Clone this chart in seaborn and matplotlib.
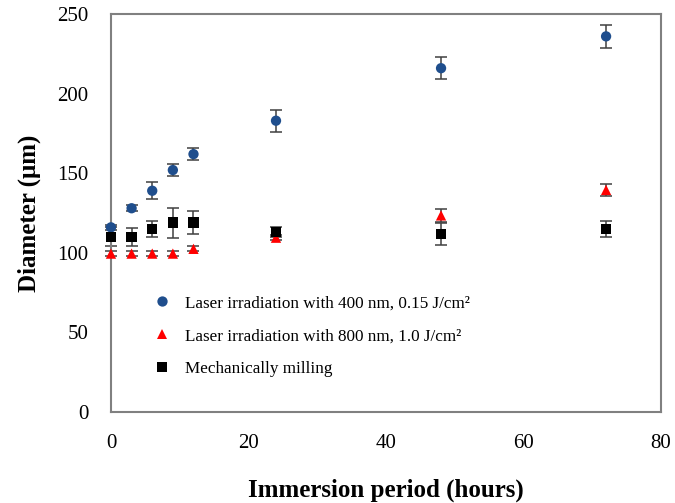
import matplotlib
matplotlib.use("Agg")
import matplotlib.pyplot as plt
import pandas as pd
import seaborn as sns

hours = [0, 3, 6, 9, 12, 24, 48, 72]

laser400 = [116, 128, 139, 152, 162, 183, 216, 236]
laser400_err = [1.5, 2, 5.5, 3.5, 3.8, 7, 7, 7]

laser800 = [99.5, 99.5, 99.5, 99.5, 102.5, 109.5, 123.5, 139.5]
laser800_err = [1.5, 1.5, 1.5, 1.5, 1.5, 1.5, 4, 4]

milling = [110, 110, 115, 119, 119, 113, 112, 115]
milling_err = [6, 5.6, 5, 9.4, 7, 3, 7, 5]

labels = ["Laser irradiation with 400 nm, 0.15 J/cm\u00b2",
          "Laser irradiation with 800 nm, 1.0 J/cm\u00b2",
          "Mechanically milling"]
colors = ["#1f4e8d", "#ff0000", "#000000"]
markers = ["o", "^", "s"]

df = pd.concat([
    pd.DataFrame({"hours": hours, "diameter": laser400, "err": laser400_err, "method": labels[0]}),
    pd.DataFrame({"hours": hours, "diameter": laser800, "err": laser800_err, "method": labels[1]}),
    pd.DataFrame({"hours": hours, "diameter": milling, "err": milling_err, "method": labels[2]}),
])

sns.set_style("white")
plt.rcParams["font.family"] = ["Liberation Serif", "DejaVu Serif"]
plt.rcParams["text.color"] = "black"
plt.rcParams["axes.labelcolor"] = "black"

fig = plt.figure(figsize=(6.75, 5.03), dpi=100)
ax = fig.add_axes([0.1644, 0.181, 0.815, 0.791])

# error bars first, markers on top
for lab in labels:
    sub = df[df["method"] == lab]
    eb = ax.errorbar(sub["hours"], sub["diameter"], yerr=sub["err"], fmt="none",
                     ecolor="#404040", elinewidth=1.1, capsize=4, capthick=1.1, zorder=2)
    for art in eb.get_children():
        art.set_clip_on(False)

sns.scatterplot(data=df, x="hours", y="diameter", hue="method", style="method",
                hue_order=labels, style_order=labels,
                palette=dict(zip(labels, colors)), markers=dict(zip(labels, markers)),
                s=55, edgecolor="none", linewidth=0, ax=ax, zorder=3, clip_on=False)

ax.set_xlim(0, 80)
ax.set_ylim(0, 250)
ax.set_xticks([0, 20, 40, 60, 80])
ax.set_yticks([0, 50, 100, 150, 200, 250])
ax.tick_params(direction="in", length=6, width=1.2, color="#808080",
               labelcolor="black", labelsize=15)
ax.tick_params(axis="x", pad=16)
ax.tick_params(axis="y", pad=16)
for sp in ax.spines.values():
    sp.set_color("#808080")
    sp.set_linewidth(1.5)

ax.set_xlabel("Immersion period (hours)", fontsize=18, fontweight="bold", labelpad=18)
ax.set_ylabel("Diameter (\u03bcm)", fontsize=18, fontweight="bold", labelpad=12)

ax.legend(loc="upper left", bbox_to_anchor=(0.033, 0.332), frameon=False,
          fontsize=12.3, labelspacing=1.0, handlelength=2.0, handletextpad=0.38)

plt.savefig("out.png", dpi=100)
